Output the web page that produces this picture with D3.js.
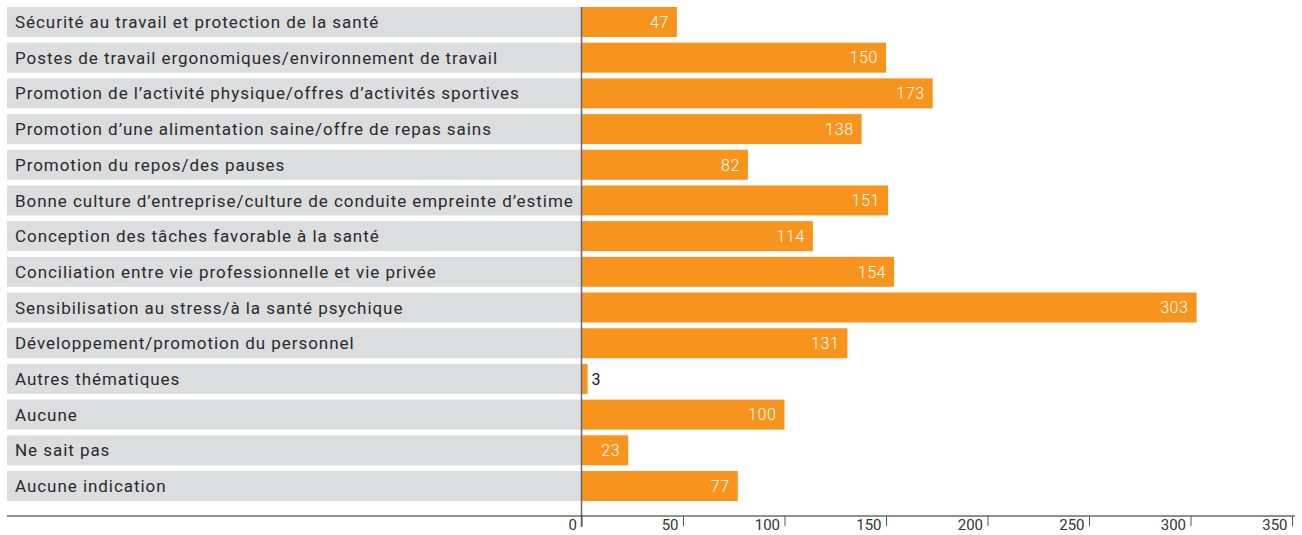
<!DOCTYPE html>
<html><head><meta charset="utf-8">
<script src="https://cdn.jsdelivr.net/npm/d3@7"></script>
<style>
html,body{margin:0;padding:0;background:#fff;}
svg{display:block;font-family:Roboto, "Noto Sans", sans-serif;}
</style></head>
<body>
<svg id="chart" width="1302" height="535"></svg>
<script>
const categories = [
  "Sécurité au travail et protection de la santé",
  "Postes de travail ergonomiques/environnement de travail",
  "Promotion de l’activité physique/offres d’activités sportives",
  "Promotion d’une alimentation saine/offre de repas sains",
  "Promotion du repos/des pauses",
  "Bonne culture d’entreprise/culture de conduite empreinte d’estime",
  "Conception des tâches favorable à la santé",
  "Conciliation entre vie professionnelle et vie privée",
  "Sensibilisation au stress/à la santé psychique",
  "Développement/promotion du personnel",
  "Autres thématiques",
  "Aucune",
  "Ne sait pas",
  "Aucune indication"
];
const values = [47, 150, 173, 138, 82, 151, 114, 154, 303, 131, 3, 100, 23, 77];
const tickValues = [0, 50, 100, 150, 200, 250, 300, 350];

const svg = d3.select("#chart");
const x0 = 581.5, xLeft = 7, xRight = 1295;
const x = d3.scaleLinear().domain([0, 350]).range([x0, 1292]);
const y = d3.scaleBand().domain(categories).range([7, 501]).paddingInner(0.16).paddingOuter(0);

// gray label backgrounds
svg.append("g").selectAll("rect").data(categories).join("rect")
  .attr("x", xLeft).attr("y", d => y(d)).attr("width", x0 - xLeft).attr("height", y.bandwidth())
  .attr("fill", "#dcddde");

svg.append("g").selectAll("text").data(categories).join("text")
  .attr("x", 15).attr("y", d => y(d) + y.bandwidth() / 2).attr("dy", "0.36em")
  .attr("font-size", 17).attr("letter-spacing", "0.95px").attr("fill", "#2a2a2a").text(d => d);

// bars
svg.append("g").selectAll("rect").data(values).join("rect")
  .attr("x", x(0)).attr("y", (d, i) => y(categories[i]))
  .attr("width", d => x(d) - x(0)).attr("height", y.bandwidth())
  .attr("fill", "#f7941d");

svg.append("g").selectAll("text").data(values).join("text")
  .attr("x", d => d < 10 ? x(d) + 4 : x(d) - 8)
  .attr("y", (d, i) => y(categories[i]) + y.bandwidth() / 2).attr("dy", "0.36em")
  .attr("text-anchor", d => d < 10 ? "start" : "end")
  .attr("font-size", 16).attr("font-weight", d => d < 10 ? 400 : 300).attr("letter-spacing", "0.6px")
  .attr("fill", d => d < 10 ? "#222" : "#fff").text(d => d);

// zero line
svg.append("line").attr("x1", x0).attr("x2", x0).attr("y1", 7).attr("y2", 527)
  .attr("stroke", "#666").attr("stroke-width", 1.5);

// x axis
const axisY = 516;
svg.append("line").attr("x1", xLeft).attr("x2", xRight).attr("y1", axisY).attr("y2", axisY)
  .attr("stroke", "#222").attr("stroke-width", 1.2);
const ax = svg.append("g").attr("transform", `translate(0,${axisY})`)
  .call(d3.axisBottom(x).tickValues(tickValues).tickSize(10).tickFormat(d3.format("d")));
ax.select(".domain").remove();
ax.selectAll(".tick line").attr("stroke", "#555").attr("stroke-width", 1);
ax.selectAll(".tick text").attr("font-family", "Roboto, sans-serif").attr("font-size", 15)
  .attr("fill", "#333").attr("text-anchor", "end").attr("x", -5).attr("y", 3).attr("dy", "0.71em");
</script>
</body></html>
